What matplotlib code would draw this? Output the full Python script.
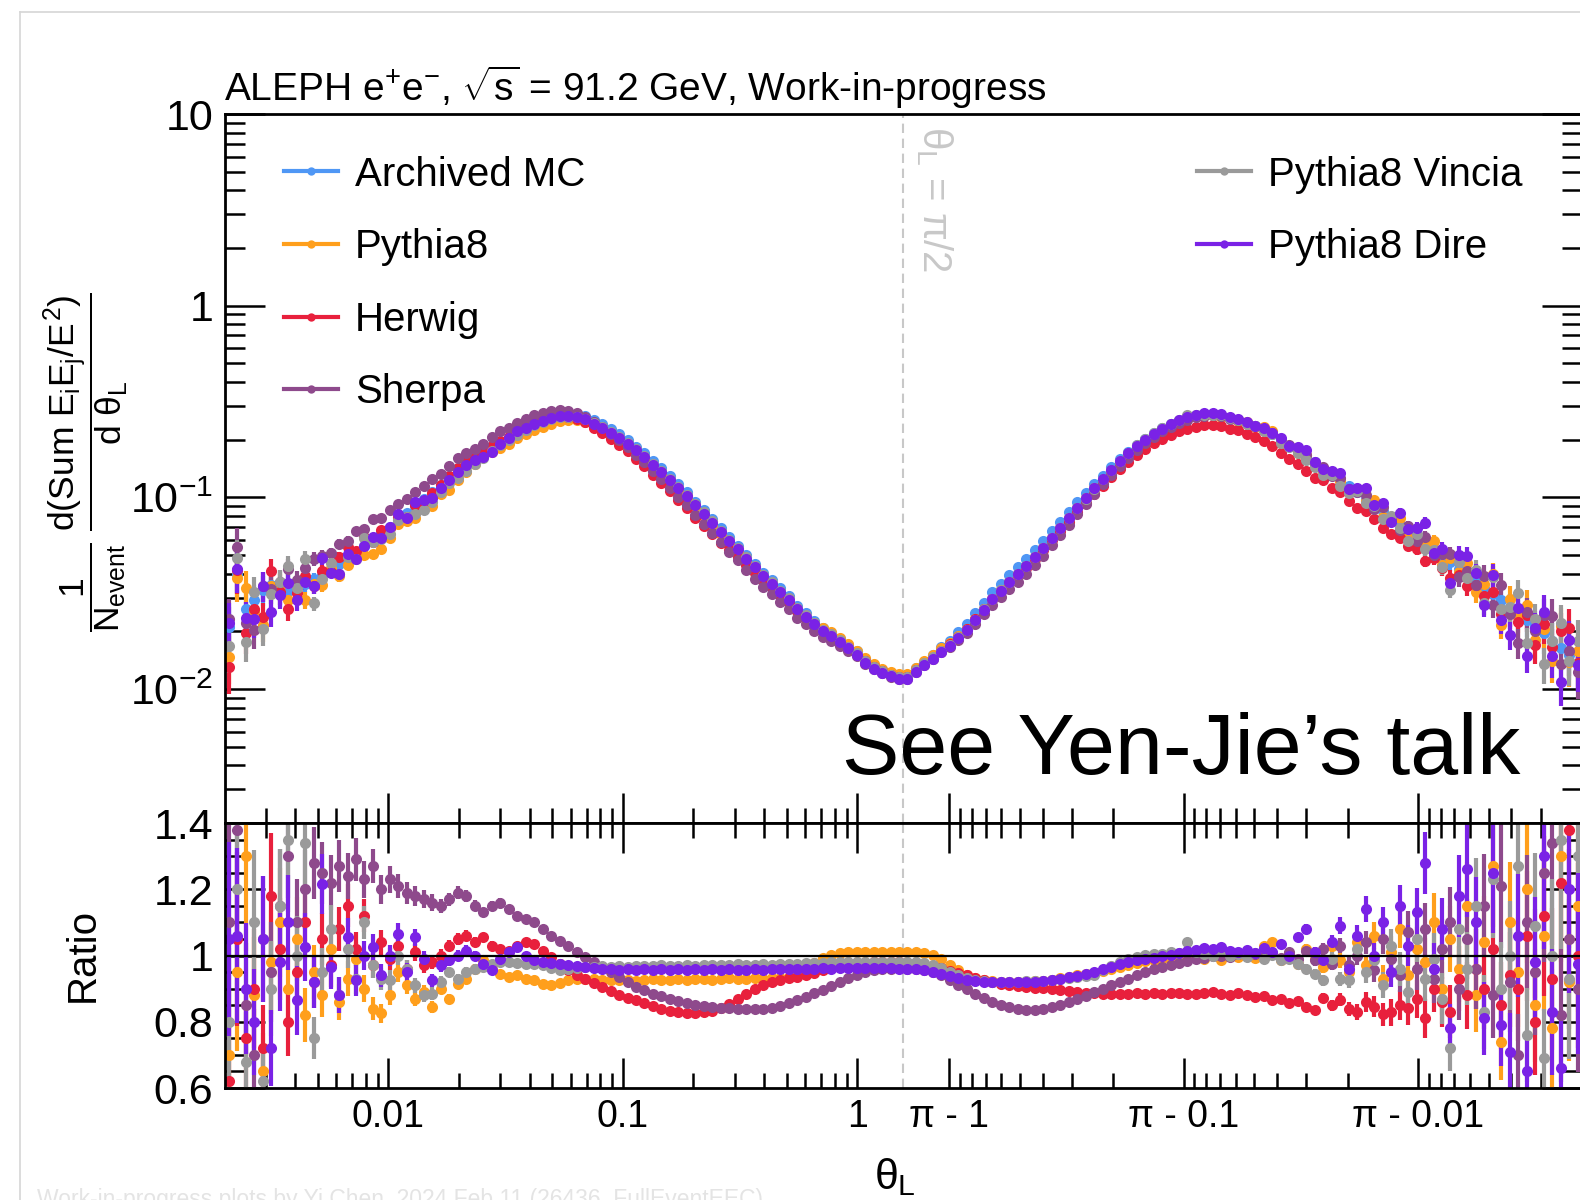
import numpy as np
import matplotlib
matplotlib.use('Agg')
import matplotlib.pyplot as plt
from matplotlib.lines import Line2D
from matplotlib.ticker import FixedLocator, FixedFormatter, MultipleLocator, LogLocator, NullFormatter

# fonts: helvetica-like
plt.rcParams['font.family'] = ['Liberation Sans', 'DejaVu Sans']
plt.rcParams['mathtext.fontset'] = 'custom'
plt.rcParams['mathtext.rm'] = 'Liberation Sans'
plt.rcParams['mathtext.it'] = 'Liberation Sans'
plt.rcParams['mathtext.bf'] = 'Liberation Sans:bold'
plt.rcParams['mathtext.sf'] = 'Liberation Sans'

# ---- binning: 80 log bins from 0.002 to pi/2, mirrored to pi ----
theta_min = 0.002
n_half = 80
edges = np.logspace(np.log10(theta_min), np.log10(np.pi / 2), n_half + 1)
left_centres = np.sqrt(edges[:-1] * edges[1:])
theta = np.concatenate([left_centres, np.pi - left_centres[::-1]])

# ---- Archived MC (reference) ----
archived_mc = [
    0.021, 0.040, 0.026, 0.029, 0.033, 0.035, 0.0315, 0.0325, 0.0335, 0.0355,
    0.0373, 0.0395, 0.0420, 0.0450, 0.0478, 0.0515, 0.0555, 0.0605, 0.0650, 0.0700,
    0.0765, 0.0825, 0.0900, 0.0975, 0.1070, 0.1155, 0.1250, 0.1350, 0.1450, 0.1560,
    0.1670, 0.1800, 0.1920, 0.2030, 0.2170, 0.2310, 0.2440, 0.2550, 0.2650, 0.2730,
    0.2750, 0.2720, 0.2650, 0.2520, 0.2400, 0.2260, 0.2130, 0.1990, 0.1840, 0.1700,
    0.1550, 0.1420, 0.1290, 0.1170, 0.1060, 0.0950, 0.0860, 0.0770, 0.0690, 0.0620,
    0.0560, 0.0500, 0.0450, 0.0405, 0.0370, 0.0335, 0.0305, 0.0272, 0.0248, 0.0227,
    0.0209, 0.0197, 0.0183, 0.0170, 0.0157, 0.0143, 0.0133, 0.0126, 0.0121, 0.0118,
    0.0118, 0.0128, 0.0139, 0.0151, 0.0165, 0.0179, 0.0198, 0.0218, 0.0248, 0.0282,
    0.0320, 0.0355, 0.0395, 0.0432, 0.0475, 0.0530, 0.0590, 0.0665, 0.0745, 0.0835,
    0.0940, 0.1050, 0.1175, 0.1300, 0.1440, 0.1580, 0.1730, 0.1880, 0.2020, 0.2160,
    0.2290, 0.2400, 0.2500, 0.2580, 0.2650, 0.2690, 0.2685, 0.2650, 0.2590, 0.2520,
    0.2440, 0.2350, 0.2250, 0.2140, 0.1960, 0.1850, 0.1740, 0.1630, 0.1520, 0.1420,
    0.1320, 0.1230, 0.1145, 0.1060, 0.0985, 0.0910, 0.0845, 0.0780, 0.0722, 0.0665,
    0.0615, 0.0575, 0.0535, 0.0495, 0.0458, 0.0425, 0.0394, 0.0365, 0.0338, 0.0313,
    0.0290, 0.0269, 0.0249, 0.0230, 0.0212, 0.0195, 0.0179, 0.0164, 0.0150, 0.0137,
]

# ---- ratios to Archived MC ----
pythia8_ratio = [
    0.70, 0.95, 1.30, 0.88, 0.65, 0.98, 1.10, 0.90, 1.05, 0.82,
    0.95, 0.88, 1.02, 0.86, 0.93, 0.99, 0.90, 0.84, 0.825, 0.88,
    0.95, 0.91, 0.87, 0.89, 0.845, 0.90, 0.87, 0.915, 0.93, 0.96,
    0.985, 0.96, 0.945, 0.935, 0.94, 0.93, 0.925, 0.915, 0.91, 0.918,
    0.925, 0.93, 0.93, 0.928, 0.926, 0.925, 0.925, 0.927, 0.924, 0.926,
    0.928, 0.925, 0.927, 0.929, 0.926, 0.928, 0.930, 0.927, 0.929, 0.931,
    0.928, 0.930, 0.932, 0.930, 0.931, 0.933, 0.935, 0.948, 0.962, 0.978,
    0.992, 1.002, 1.008, 1.010, 1.011, 1.012, 1.012, 1.012, 1.011, 1.010,
    1.010, 1.010, 1.008, 1.002, 0.990, 0.972, 0.955, 0.942, 0.932, 0.926,
    0.922, 0.920, 0.919, 0.919, 0.920, 0.922, 0.924, 0.927, 0.931, 0.935,
    0.940, 0.945, 0.948, 0.952, 0.958, 0.965, 0.972, 0.978, 0.982, 0.986,
    0.990, 0.993, 0.995, 0.996, 0.998, 0.990, 1.003, 0.985, 1.005, 0.995,
    1.010, 0.992, 1.030, 1.040, 0.985, 1.005, 0.975, 1.020, 0.990, 0.965,
    1.030, 0.985, 0.950, 1.040, 0.970, 1.060, 0.930, 1.010, 1.080, 0.940,
    1.020, 0.980, 1.100, 0.900, 1.050, 0.960, 1.150, 0.880, 1.040, 1.270,
    0.740, 1.100, 0.950, 1.200, 0.850, 1.060, 0.780, 1.300, 0.920, 1.150,
]
herwig_ratio = [
    0.62, 1.05, 0.75, 0.90, 0.72, 1.18, 1.02, 0.80, 0.95, 1.10,
    0.92, 1.05, 0.97, 1.08, 1.15, 1.02, 1.12, 0.97, 1.04, 0.99,
    1.03, 0.96, 1.01, 0.97, 0.98, 1.00, 1.03, 1.05, 1.06, 1.04,
    1.055, 1.03, 1.02, 1.015, 1.03, 1.04, 1.035, 1.015, 0.995, 0.975,
    0.955, 0.940, 0.928, 0.916, 0.905, 0.893, 0.882, 0.873, 0.866, 0.858,
    0.848, 0.838, 0.832, 0.828, 0.826, 0.826, 0.828, 0.833, 0.842, 0.855,
    0.870, 0.885, 0.898, 0.910, 0.920, 0.927, 0.932, 0.935, 0.940, 0.948,
    0.956, 0.963, 0.968, 0.972, 0.975, 0.977, 0.979, 0.980, 0.980, 0.979,
    0.978, 0.976, 0.972, 0.967, 0.961, 0.954, 0.947, 0.940, 0.933, 0.926,
    0.919, 0.914, 0.910, 0.907, 0.905, 0.903, 0.901, 0.899, 0.896, 0.893,
    0.890, 0.888, 0.886, 0.885, 0.884, 0.885, 0.884, 0.886, 0.885, 0.887,
    0.884, 0.886, 0.888, 0.885, 0.883, 0.887, 0.889, 0.885, 0.882, 0.886,
    0.880, 0.875, 0.878, 0.866, 0.870, 0.856, 0.862, 0.845, 0.835, 0.872,
    0.850, 0.866, 0.838, 0.830, 0.860, 0.845, 0.822, 0.828, 0.850, 0.842,
    0.870, 0.810, 0.900, 0.860, 0.830, 0.930, 0.880, 0.960, 0.900, 1.020,
    0.850, 0.940, 0.900, 1.060, 0.800, 1.120, 0.930, 1.220, 1.380, 1.000,
]
sherpa_ratio = [
    1.10, 1.38, 0.85, 0.70, 1.05, 0.95, 1.15, 1.30, 1.10, 1.20,
    1.28, 1.25, 1.22, 1.27, 1.24, 1.29, 1.23, 1.27, 1.20, 1.23,
    1.21, 1.19, 1.18, 1.17, 1.16, 1.15, 1.17, 1.19, 1.18, 1.15,
    1.13, 1.15, 1.16, 1.14, 1.12, 1.11, 1.10, 1.08, 1.06, 1.045,
    1.03, 1.01, 0.995, 0.98, 0.965, 0.95, 0.935, 0.92, 0.905, 0.895,
    0.885, 0.877, 0.870, 0.863, 0.857, 0.852, 0.848, 0.845, 0.843, 0.841,
    0.840, 0.839, 0.838, 0.839, 0.842, 0.848, 0.856, 0.866, 0.876, 0.886,
    0.895, 0.907, 0.920, 0.932, 0.942, 0.950, 0.956, 0.959, 0.960, 0.961,
    0.960, 0.958, 0.956, 0.950, 0.940, 0.926, 0.912, 0.898, 0.884, 0.872,
    0.861, 0.852, 0.845, 0.839, 0.836, 0.836, 0.839, 0.845, 0.852, 0.860,
    0.869, 0.879, 0.889, 0.899, 0.910, 0.920, 0.930, 0.940, 0.950, 0.958,
    0.965, 0.972, 0.978, 0.984, 0.989, 0.993, 0.997, 1.000, 0.995, 1.004,
    0.998, 1.006, 0.996, 1.008, 0.992, 1.010, 0.988, 1.015, 0.985, 1.020,
    0.975, 1.030, 0.970, 1.000, 1.040, 0.955, 1.050, 0.990, 0.940, 1.070,
    0.960, 1.080, 0.930, 1.020, 1.100, 0.900, 1.050, 0.960, 1.150, 0.880,
    1.210, 0.920, 0.700, 1.100, 0.950, 1.250, 1.340, 0.820, 1.050, 0.900,
]
vincia_ratio = [
    0.80, 1.20, 0.68, 1.10, 0.62, 0.90, 1.15, 1.35, 1.00, 1.34,
    0.75, 0.95, 1.08, 0.88, 1.02, 0.93, 1.10, 0.97, 0.93, 0.925,
    1.00, 0.96, 0.91, 0.88, 0.885, 0.92, 0.95, 0.93, 0.95, 0.96,
    0.965, 0.975, 0.98, 0.98, 0.978, 0.975, 0.975, 0.97, 0.962, 0.957,
    0.958, 0.962, 0.965, 0.966, 0.967, 0.965, 0.968, 0.966, 0.969, 0.967,
    0.968, 0.970, 0.968, 0.969, 0.971, 0.969, 0.970, 0.972, 0.970, 0.971,
    0.973, 0.971, 0.972, 0.974, 0.972, 0.973, 0.974, 0.975, 0.976, 0.977,
    0.978, 0.979, 0.980, 0.980, 0.981, 0.981, 0.981, 0.981, 0.980, 0.980,
    0.980, 0.980, 0.978, 0.972, 0.962, 0.950, 0.940, 0.932, 0.926, 0.922,
    0.920, 0.920, 0.920, 0.921, 0.922, 0.923, 0.924, 0.926, 0.929, 0.932,
    0.935, 0.938, 0.942, 0.955, 0.968, 0.980, 0.988, 0.995, 1.002, 1.006,
    1.004, 1.010, 1.008, 1.040, 1.012, 1.005, 1.000, 1.015, 0.998, 1.004,
    0.995, 1.008, 0.990, 1.002, 0.985, 0.990, 0.975, 0.960, 0.945, 0.925,
    0.990, 0.930, 0.925, 1.020, 0.950, 0.985, 0.910, 1.030, 0.960, 0.890,
    1.050, 0.930, 0.990, 0.870, 0.720, 1.080, 0.960, 1.150, 0.830, 1.230,
    0.900, 1.000, 1.270, 0.760, 1.090, 0.690, 1.000, 1.350, 0.930, 1.300,
]
dire_ratio = [
    1.05, 1.06, 0.90, 0.80, 1.05, 0.72, 0.98, 1.10, 0.865, 1.025,
    0.92, 1.215, 0.965, 0.88, 1.055, 0.925, 1.00, 1.025, 0.94, 1.00,
    1.065, 0.95, 1.055, 0.99, 0.925, 0.97, 0.985, 1.00, 1.015, 1.00,
    0.975, 0.955, 0.99, 1.01, 1.025, 1.00, 0.985, 0.98, 0.977, 0.975,
    0.970, 0.967, 0.965, 0.962, 0.960, 0.958, 0.957, 0.959, 0.957, 0.958,
    0.956, 0.958, 0.957, 0.959, 0.957, 0.958, 0.956, 0.958, 0.957, 0.958,
    0.956, 0.957, 0.958, 0.957, 0.958, 0.959, 0.959, 0.960, 0.959, 0.960,
    0.961, 0.960, 0.961, 0.961, 0.962, 0.961, 0.962, 0.961, 0.961, 0.960,
    0.960, 0.958, 0.955, 0.950, 0.944, 0.938, 0.932, 0.927, 0.923, 0.921,
    0.920, 0.919, 0.919, 0.919, 0.920, 0.921, 0.923, 0.926, 0.930, 0.934,
    0.939, 0.945, 0.951, 0.958, 0.966, 0.974, 0.980, 0.985, 0.989, 0.993,
    0.998, 1.003, 1.008, 1.013, 1.018, 1.022, 1.020, 1.025, 1.015, 1.012,
    1.018, 1.008, 1.022, 1.010, 1.035, 1.000, 1.055, 1.080, 1.010, 0.985,
    1.040, 1.090, 0.960, 1.060, 1.140, 1.000, 1.100, 0.950, 1.150, 1.030,
    1.130, 1.280, 0.960, 1.080, 0.780, 1.180, 1.260, 1.100, 0.810, 1.250,
    0.790, 0.710, 1.060, 0.650, 0.980, 1.300, 0.830, 0.660, 1.200, 0.975,
]

# relative statistical uncertainty per bin
rel_err = [
    0.28, 0.25, 0.22, 0.20, 0.18, 0.16, 0.15, 0.13, 0.12, 0.10,
    0.085, 0.075, 0.068, 0.062, 0.056, 0.050, 0.045, 0.040, 0.036, 0.033,
    0.030, 0.028, 0.025, 0.023, 0.021, 0.019, 0.017, 0.016, 0.015, 0.014,
    0.013, 0.012, 0.011, 0.010, 0.009, 0.009, 0.008, 0.008, 0.007, 0.007,
    0.007, 0.006, 0.006, 0.006, 0.006, 0.006, 0.006, 0.006, 0.006, 0.006,
    0.006, 0.006, 0.005, 0.005, 0.005, 0.005, 0.005, 0.005, 0.005, 0.005,
    0.005, 0.005, 0.005, 0.005, 0.005, 0.005, 0.005, 0.005, 0.005, 0.005,
    0.005, 0.005, 0.005, 0.005, 0.005, 0.005, 0.005, 0.005, 0.005, 0.005,
    0.005, 0.005, 0.005, 0.005, 0.005, 0.005, 0.005, 0.005, 0.005, 0.005,
    0.005, 0.005, 0.005, 0.005, 0.005, 0.005, 0.005, 0.005, 0.005, 0.005,
    0.005, 0.005, 0.005, 0.005, 0.005, 0.005, 0.005, 0.005, 0.005, 0.005,
    0.005, 0.005, 0.005, 0.005, 0.005, 0.006, 0.006, 0.006, 0.006, 0.006,
    0.006, 0.007, 0.008, 0.009, 0.010, 0.011, 0.012, 0.014, 0.016, 0.018,
    0.020, 0.023, 0.026, 0.030, 0.034, 0.038, 0.043, 0.048, 0.054, 0.060,
    0.066, 0.073, 0.080, 0.088, 0.096, 0.105, 0.115, 0.125, 0.135, 0.145,
    0.155, 0.165, 0.175, 0.185, 0.200, 0.215, 0.230, 0.245, 0.260, 0.280,
]

labels = ['Archived MC', 'Pythia8', 'Herwig', 'Sherpa', 'Pythia8 Vincia', 'Pythia8 Dire']
colors = ['#4f97f5', '#ff9f1c', '#e8203c', '#8e4a8c', '#9a9a9a', '#7a22e6']
ratios = [None, pythia8_ratio, herwig_ratio, sherpa_ratio, vincia_ratio, dire_ratio]

ref = np.array(archived_mc)
err = np.array(rel_err)

# ---- x scale: log(theta) up to pi/2, log(pi - theta) mirrored beyond ----
HALF = np.pi / 2
LC = np.log10(HALF)
EPS = 1e-9


def fwd(t):
    t = np.clip(np.asarray(t, dtype=float), EPS, np.pi - EPS)
    a = np.log10(t)
    b = 2 * LC - np.log10(np.pi - t)
    return np.where(t <= HALF, a, b)


def inv(s):
    s = np.clip(np.asarray(s, dtype=float), -9, 2 * LC + 9)
    a = 10.0 ** s
    b = np.pi - 10.0 ** (2 * LC - s)
    return np.where(s <= LC, a, b)


fig = plt.figure(figsize=(15.8, 12), dpi=100)
ax_top = fig.add_axes([0.14209, 0.31417, 0.85918, 0.59083])
ax_bot = fig.add_axes([0.14209, 0.09333, 0.85918, 0.22083], sharex=ax_top)

ax_top.set_xlim(theta_min, np.pi - theta_min)
ax_top.set_ylim(0.002, 10)
ax_bot.set_ylim(0.6, 1.4)
ax_top.set_yscale('log')
ax_top.set_xscale('function', functions=(fwd, inv))
ax_top.set_autoscale_on(False)
ax_bot.set_autoscale_on(False)

for lab, col, rat in zip(labels, colors, ratios):
    if rat is None:
        vals = ref
    else:
        r = np.array(rat)
        vals = ref * r
        ax_bot.errorbar(theta, r, yerr=r * err, fmt='o', ms=8, mew=0, color=col,
                        ecolor=col, elinewidth=3, capsize=0)
    ax_top.errorbar(theta, vals, yerr=vals * err, fmt='o', ms=8, mew=0, color=col,
                    ecolor=col, elinewidth=3, capsize=0)

ax_top.set_xlim(theta_min, np.pi - theta_min)
ax_top.set_ylim(0.002, 10)
ax_bot.set_ylim(0.6, 1.4)

ax_bot.axhline(1.0, color='black', lw=1.6, zorder=10)
for ax in (ax_top, ax_bot):
    ax.axvline(HALF, color='#c8c8c8', lw=1.5, ls=(0, (4.5, 2.7)), zorder=0)
    for sp in ax.spines.values():
        sp.set_linewidth(2.0)

# x ticks
major_x = [0.01, 0.1, 1.0, np.pi - 1, np.pi - 0.1, np.pi - 0.01]
major_lab = ['0.01', '0.1', '1', 'π - 1', 'π - 0.1', 'π - 0.01']
minor_x = []
for d in (-3, -2, -1):
    for k in range(2, 10):
        v = k * 10.0 ** d
        if v > theta_min:
            minor_x += [v, np.pi - v]
ax_bot.xaxis.set_major_locator(FixedLocator(major_x))
ax_bot.xaxis.set_major_formatter(FixedFormatter(major_lab))
ax_bot.xaxis.set_minor_locator(FixedLocator(sorted(minor_x)))
ax_bot.xaxis.set_minor_formatter(NullFormatter())

# y ticks
ax_top.yaxis.set_major_locator(FixedLocator([0.01, 0.1, 1, 10]))
ax_top.yaxis.set_major_formatter(FixedFormatter(['$10^{-2}$', '$10^{-1}$', '1', '10']))
ax_top.yaxis.set_minor_locator(LogLocator(base=10, subs=np.arange(2, 10)))
ax_top.yaxis.set_minor_formatter(NullFormatter())
ax_bot.yaxis.set_major_locator(FixedLocator([0.6, 0.8, 1.0, 1.2, 1.4]))
ax_bot.yaxis.set_major_formatter(FixedFormatter(['0.6', '0.8', '1', '1.2', '1.4']))
ax_bot.yaxis.set_minor_locator(MultipleLocator(0.05))

ax_top.tick_params(axis='x', which='both', direction='in', top=False, bottom=True,
                   labelbottom=False)
ax_bot.tick_params(axis='x', which='both', direction='in', top=True, bottom=True,
                   labelsize=27, pad=8)
for ax in (ax_top, ax_bot):
    ax.tick_params(axis='x', which='major', length=21.6, width=1.8)
    ax.tick_params(axis='x', which='minor', length=10.8, width=1.8)
    ax.tick_params(axis='y', which='both', direction='in', left=True, right=True,
                   labelsize=31, pad=8)
    ax.tick_params(axis='y', which='major', length=28.8, width=1.8)
    ax.tick_params(axis='y', which='minor', length=14.4, width=1.8)

# legends
handles = [Line2D([], [], color=c, lw=3, marker='o', ms=6, mew=0) for c in colors]
leg_kw = dict(loc='upper left', bbox_transform=fig.transFigure, frameon=False,
              fontsize=29, handlelength=1.34, handletextpad=0.42, labelspacing=0.86,
              borderpad=0, borderaxespad=0)
leg1 = ax_top.legend(handles[:4], labels[:4], bbox_to_anchor=(0.1797, 0.8704), **leg_kw)
ax_top.add_artist(leg1)
ax_top.legend(handles[4:], labels[4:], bbox_to_anchor=(0.7576, 0.8704), **leg_kw)

# texts
fig.text(224 / 1580, 1 - 101 / 1200, 'ALEPH e$^{+}$e$^{-}$, $\\sqrt{s}$ = 91.2 GeV, Work-in-progress',
         fontsize=28, va='baseline', ha='left')
fig.text(86 / 1580, 1 - 462 / 1200,
         r'$\dfrac{1}{N_{\mathrm{event}}}\ \dfrac{d(\mathrm{Sum}\ E_{i}E_{j}/E^{2})}{d\ \theta_{L}}$',
         rotation=90, fontsize=25.5, ha='center', va='center')
fig.text(83 / 1580, 1 - 955 / 1200, 'Ratio', rotation=90, fontsize=29, ha='center', va='center')
fig.text(895 / 1580, 1 - 1177 / 1200, r'$\theta_{L}$', fontsize=31, ha='center', va='center')
fig.text(934 / 1580, 1 - 199 / 1200, r'$\theta_{L}$ = $\pi$/2', rotation=-90, fontsize=29,
         color='#c8c8c8', ha='center', va='center')
fig.text(1520 / 1580, 1 - 774 / 1200, 'See Yen-Jie\u2019s talk', fontsize=62,
         ha='right', va='baseline')
fig.text(37 / 1580, 1 - 1188 / 1200,
         'Work-in-progress plots by Yi Chen, 2024 Feb 11 (26436, FullEventEEC)',
         fontsize=16.5, color='#e4e4e4', va='top')

# slide frame
fig.add_artist(Line2D([20 / 1580, 1], [1 - 12 / 1200] * 2, transform=fig.transFigure,
                      color='#d6d6d6', lw=1.2))
fig.add_artist(Line2D([20 / 1580] * 2, [1 - 12 / 1200, 0], transform=fig.transFigure,
                      color='#d6d6d6', lw=1.2))

fig.savefig('out.png', dpi=100)
